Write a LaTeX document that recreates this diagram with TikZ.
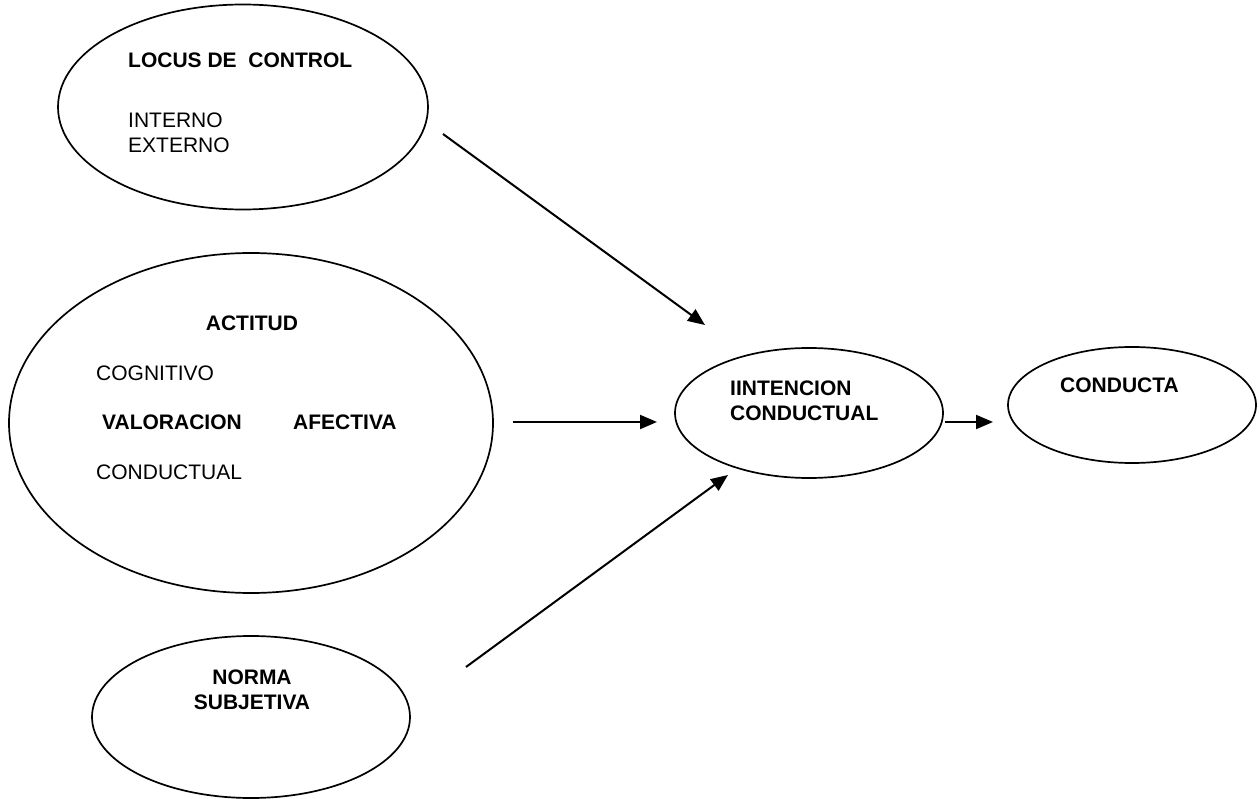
\documentclass[tikz,border=0pt]{standalone}
\usepackage{fontspec}
\setmainfont{Liberation Sans}
\usetikzlibrary{arrows.meta,shapes.geometric}
\begin{document}
\begin{tikzpicture}[x=1pt,y=-1pt,
  oval/.style={draw=black,line width=1.7pt,ellipse,inner sep=0pt},
  lbl/.style={anchor=base west,inner sep=0pt,font=\fontsize{21}{25}\selectfont},
  blbl/.style={lbl,font=\fontsize{21}{25}\selectfont\bfseries},
  cblbl/.style={blbl,anchor=base},
  arr/.style={line width=2pt,-{Triangle[length=17pt,width=14pt]}}]
\useasboundingbox (0,0) rectangle (1259,799);
% ellipses
\node[oval,minimum width=370pt,minimum height=205pt] (locus) at (243,107) {};
\node[oval,minimum width=484pt,minimum height=340pt] (actitud) at (251,423) {};
\node[oval,minimum width=318pt,minimum height=162pt] (norma) at (251,717) {};
\node[oval,minimum width=268pt,minimum height=130pt] (intencion) at (809,413) {};
\node[oval,minimum width=248pt,minimum height=116pt] (conducta) at (1132,405) {};
% texts
\node[blbl] (tlocus) at (128,67.5) {LOCUS DE\ \ CONTROL};
\node[lbl] (tint) at (128,127.5) {INTERNO};
\node[lbl] (text) at (128,152.5) {EXTERNO};
\node[cblbl] (tact) at (252,330.5) {ACTITUD};
\node[lbl] (tcog) at (96,380.5) {COGNITIVO};
\node[blbl] (tval) at (102,429.5) {VALORACION};
\node[blbl] (tafe) at (293,429.5) {AFECTIVA};
\node[lbl] (tcon) at (96,479.5) {CONDUCTUAL};
\node[cblbl] (tnor) at (252,684.5) {NORMA};
\node[cblbl] (tsub) at (252,709.5) {SUBJETIVA};
\node[blbl] (tint1) at (730,395.5) {IINTENCION};
\node[blbl] (tint2) at (730,420.5) {CONDUCTUAL};
\node[blbl] (tcond) at (1060,392.5) {CONDUCTA};
% arrow ends
\coordinate (a1s) at (443,134);
\coordinate (a1e) at (705,325);
\coordinate (a2s) at (513,422);
\coordinate (a2e) at (657,422);
\coordinate (a3s) at (466,667);
\coordinate (a3e) at (728,475);
\coordinate (a4s) at (945,422);
\coordinate (a4e) at (993,422);
\draw[arr] (a1s) -- (a1e);
\draw[arr] (a2s) -- (a2e);
\draw[arr] (a3s) -- (a3e);
\draw[arr] (a4s) -- (a4e);
\end{tikzpicture}
\end{document}
